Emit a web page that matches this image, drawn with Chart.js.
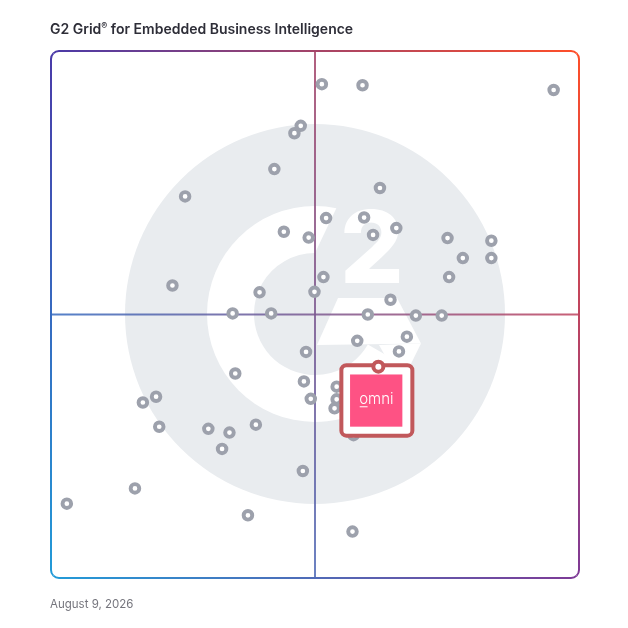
<!DOCTYPE html>
<html>
<head>
<meta charset="utf-8">
<script src="https://cdn.jsdelivr.net/npm/chart.js@4.4.1/dist/chart.umd.min.js"></script>
<style>
  html, body { margin: 0; padding: 0; background: #ffffff; }
  #wrap { position: relative; width: 628px; height: 628px; overflow: hidden; }
  #chart { position: absolute; left: 0; top: 0; }
  #title { position: absolute; left: 50px; top: 21px; font: 600 14px Inter, "Noto Sans", sans-serif; line-height: 16px; color: #2e2e38; white-space: nowrap; z-index: 2; }
  #title sup { font-size: 9px; vertical-align: 5px; line-height: 0; }
  #date { position: absolute; left: 50px; top: 597px; font: 400 11.5px Inter, "Noto Sans", sans-serif; line-height: 14px; color: #75757d; white-space: nowrap; z-index: 2; }
</style>
</head>
<body>
<div id="wrap">
  <canvas id="chart" width="628" height="628"></canvas>
  <div id="title">G2 Grid<sup>®</sup> for Embedded Business Intelligence</div>
  <div id="date">August 9, 2026</div>
</div>
<script>
// ---- Data ----
// x: Satisfaction (0-100), y: Market Presence (0-100)
const satisfaction = [
  51.3, 59.0, 95.2, 47.3, 46.1, 42.3, 25.4, 62.3, 52.1, 59.3,
  44.1, 48.8, 61.0, 65.4, 75.1, 83.4, 78.0, 83.4, 75.4, 51.6,
  23.0, 39.5, 49.9, 64.3, 34.4, 41.7, 60.0, 69.1, 74.0, 58.0,
  67.4, 65.9, 48.3, 34.9, 47.9, 49.2, 19.9, 17.4, 20.5, 29.8,
  33.8, 38.8, 32.4, 47.7, 15.9, 3.0, 37.3, 57.1, 54.1, 54.1,
  53.7, 57.3
];
const marketPresence = [
  93.7, 93.5, 92.6, 85.8, 84.4, 77.6, 72.4, 74.0, 68.3, 68.4,
  65.7, 64.6, 65.1, 66.4, 64.5, 64.0, 60.7, 60.7, 57.1, 57.1,
  55.5, 54.2, 54.3, 52.8, 50.2, 50.2, 50.0, 49.8, 49.8, 45.0,
  45.8, 43.0, 42.9, 38.8, 37.3, 34.0, 34.4, 33.3, 28.7, 28.3,
  27.6, 29.1, 24.5, 20.3, 17.0, 14.1, 11.9, 8.8, 36.3, 33.9,
  32.2, 27.1
];
const highlightLabel = ['omni'];
const highlightSatisfaction = [62.0];
const highlightMarketPresence = [40.1];
const axisMin = 0, axisMax = 100, axisMid = 50;

// ---- Helpers ----
function rr(ctx, x, y, w, h, r) {
  ctx.beginPath();
  ctx.moveTo(x + r, y);
  ctx.lineTo(x + w - r, y);
  ctx.arcTo(x + w, y, x + w, y + r, r);
  ctx.lineTo(x + w, y + h - r);
  ctx.arcTo(x + w, y + h, x + w - r, y + h, r);
  ctx.lineTo(x + r, y + h);
  ctx.arcTo(x, y + h, x, y + h - r, r);
  ctx.lineTo(x, y + r);
  ctx.arcTo(x, y, x + r, y, r);
  ctx.closePath();
}
const rad = d => d * Math.PI / 180;
function mix(a, b) { return a.map((v, i) => Math.round((v + b[i]) / 2)); }
const rgb = c => `rgb(${c[0]},${c[1]},${c[2]})`;
const TL = [74, 58, 168], TR = [255, 78, 40], BL = [34, 155, 216], BR = [126, 58, 150];

const gridBackground = {
  id: 'gridBackground',
  beforeDatasetsDraw(chart) {
    const ctx = chart.ctx;
    const { left, top, right, bottom } = chart.chartArea;
    const xs = chart.scales.x, ys = chart.scales.y;
    const cx = xs.getPixelForValue(axisMid), cy = ys.getPixelForValue(axisMid);
    const u = (right - left) / 528;
    ctx.save();
    // G2 logo watermark
    ctx.fillStyle = '#e9ecef';
    ctx.beginPath(); ctx.arc(cx, cy - 0.5 * u, 190 * u, 0, Math.PI * 2); ctx.fill();
    ctx.fillStyle = '#ffffff';
    const lx = cx, ly = cy - 0.5 * u;
    ctx.beginPath();
    ctx.arc(lx, ly, 108 * u, rad(-78.6), rad(30), true);
    ctx.arc(lx, ly, 61 * u, rad(30), rad(-90), false);
    ctx.closePath(); ctx.fill();
    const P = (dx, dy) => [lx + dx * u, ly + dy * u];
    const poly = pts => { ctx.beginPath(); pts.forEach((p, i) => { const q = P(p[0], p[1]); i ? ctx.lineTo(q[0], q[1]) : ctx.moveTo(q[0], q[1]); }); ctx.closePath(); ctx.fill(); };
    poly([[23, -16], [82, -16], [106, 29.5], [2, 31]]);
    poly([[106, 29.5], [86, 70], [64, 31]]);
    ctx.font = `800 ${100 * u}px Inter, "DejaVu Sans", sans-serif`;
    ctx.textAlign = 'center'; ctx.textBaseline = 'alphabetic';
    ctx.fillText('2', lx + 57 * u, ly - 31 * u);

    // cross lines
    ctx.globalAlpha = 0.85;
    ctx.lineWidth = 2;
    let g = ctx.createLinearGradient(0, top, 0, bottom);
    g.addColorStop(0, rgb(mix(TL, TR))); g.addColorStop(1, rgb(mix(BL, BR)));
    ctx.strokeStyle = g;
    ctx.beginPath(); ctx.moveTo(cx, top); ctx.lineTo(cx, bottom); ctx.stroke();
    g = ctx.createLinearGradient(left, 0, right, 0);
    g.addColorStop(0, rgb(mix(TL, BL))); g.addColorStop(1, rgb(mix(TR, BR)));
    ctx.strokeStyle = g;
    ctx.beginPath(); ctx.moveTo(left, cy); ctx.lineTo(right, cy); ctx.stroke();
    ctx.globalAlpha = 1;

    // gradient frame, one gradient per side, clipped to triangles
    const sides = [
      { tri: [[left - 9, top - 9], [right + 9, top - 9]], g: [left, top, right, top, TL, TR] },
      { tri: [[right + 9, top - 9], [right + 9, bottom + 9]], g: [right, top, right, bottom, TR, BR] },
      { tri: [[right + 9, bottom + 9], [left - 9, bottom + 9]], g: [left, bottom, right, bottom, BL, BR] },
      { tri: [[left - 9, bottom + 9], [left - 9, top - 9]], g: [left, top, left, bottom, TL, BL] }
    ];
    sides.forEach(s => {
      ctx.save();
      ctx.beginPath(); ctx.moveTo(cx, cy); ctx.lineTo(s.tri[0][0], s.tri[0][1]); ctx.lineTo(s.tri[1][0], s.tri[1][1]); ctx.closePath();
      ctx.clip();
      const gg = ctx.createLinearGradient(s.g[0], s.g[1], s.g[2], s.g[3]);
      gg.addColorStop(0, rgb(s.g[4])); gg.addColorStop(1, rgb(s.g[5]));
      ctx.strokeStyle = gg; ctx.lineWidth = 2;
      rr(ctx, left, top, right - left, bottom - top, 8);
      ctx.stroke();
      ctx.restore();
    });
    ctx.restore();
  }
};

const omniMarker = {
  id: 'omniMarker',
  afterDatasetsDraw(chart) {
    const meta = chart.getDatasetMeta(1);
    const ctx = chart.ctx;
    meta.data.forEach((pt, i) => {
      const px = pt.x, py = pt.y;
      ctx.save();
      const red = '#c1585b';
      rr(ctx, px - 37, py - 1.4, 71, 70.4, 5);
      ctx.fillStyle = '#ffffff'; ctx.fill();
      ctx.lineWidth = 4; ctx.strokeStyle = red; ctx.stroke();
      ctx.fillStyle = '#fe5284';
      ctx.fillRect(px - 28.3, py + 7.8, 52.3, 52.2);
      ctx.beginPath(); ctx.arc(px, py, 5, 0, Math.PI * 2);
      ctx.fillStyle = '#ffffff'; ctx.fill();
      ctx.lineWidth = 4; ctx.strokeStyle = red; ctx.stroke();
      ctx.fillStyle = '#ffffff';
      ctx.font = '300 15px Inter, "Noto Sans", sans-serif';
      ctx.textAlign = 'center'; ctx.textBaseline = 'alphabetic';
      const label = highlightLabel[i];
      ctx.fillText(label, px - 2, py + 37.8);
      const w = ctx.measureText(label).width;
      const ow = ctx.measureText(label[0]).width;
      ctx.fillRect(px - 2 - w / 2 + 0.5, py + 39.6, ow - 1, 1);
      ctx.restore();
    });
  }
};

new Chart(document.getElementById('chart'), {
  type: 'scatter',
  data: {
    datasets: [
      {
        label: 'Vendors',
        data: satisfaction.map((x, i) => ({ x, y: marketPresence[i] })),
        pointRadius: 4.3,
        pointHoverRadius: 4.3,
        borderWidth: 3.9,
        borderColor: '#9da1ac',
        backgroundColor: '#ffffff'
      },
      {
        label: 'Omni',
        data: highlightSatisfaction.map((x, i) => ({ x, y: highlightMarketPresence[i] })),
        pointRadius: 0,
        pointHoverRadius: 0
      }
    ]
  },
  options: {
    responsive: false,
    animation: false,
    devicePixelRatio: 1,
    layout: { padding: { left: 51, right: 49, top: 51, bottom: 50 } },
    scales: {
      x: { type: 'linear', min: axisMin, max: axisMax, display: false },
      y: { type: 'linear', min: axisMin, max: axisMax, display: false }
    },
    plugins: { legend: { display: false }, tooltip: { enabled: false } },
    events: []
  },
  plugins: [gridBackground, omniMarker]
});
</script>
</body>
</html>
